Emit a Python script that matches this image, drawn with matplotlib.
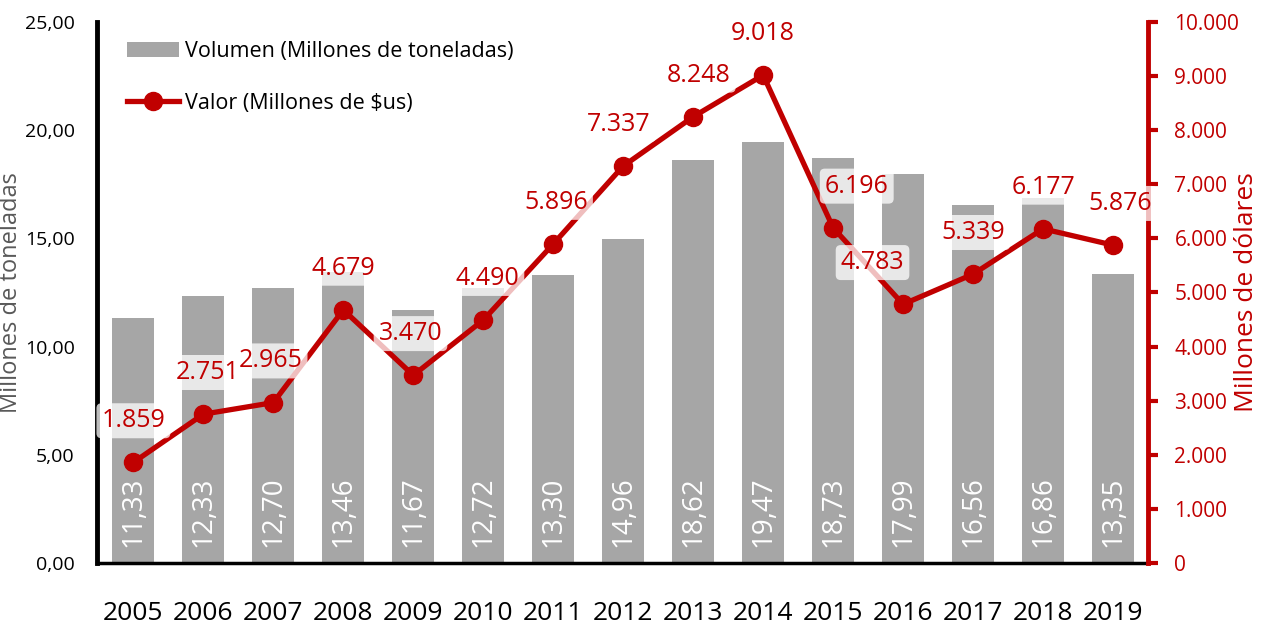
import numpy as np
import matplotlib.pyplot as plt
from matplotlib.lines import Line2D
from matplotlib.patches import Patch

plt.rcParams['font.family'] = ['Open Sans', 'DejaVu Sans']

###--- Data ---###
years = ['2005', '2006', '2007', '2008', '2009', '2010', '2011', '2012',
         '2013', '2014', '2015', '2016', '2017', '2018', '2019']
volumen = [11.33, 12.33, 12.70, 13.46, 11.67, 12.72, 13.30, 14.96,
           18.62, 19.47, 18.73, 17.99, 16.56, 16.86, 13.35]
valor = [1859, 2751, 2965, 4679, 3470, 4490, 5896, 7337,
         8248, 9018, 6196, 4783, 5339, 6177, 5876]
# label offsets (points) for the value labels
lab_dx = [0, 3, -2, 0, -2, 3, 2, -3, 4, 0, 17, -22, 0, 0, 5]

grey = '#A6A6A6'
red = '#C00000'

x = np.arange(len(years))

fig = plt.figure(figsize=(12.69, 6.31), dpi=100)
ax = fig.add_axes([97/1269, 68/631, (1148-97)/1269, (563-22)/631])
ax2 = ax.twinx()

###--- Bars (volume) ---###
ax.bar(x, volumen, width=0.6, color=grey, zorder=1)
for xi, v in zip(x, volumen):
    ax.text(xi, 0.75, f'{v:.2f}'.replace('.', ','), rotation=90, ha='center', va='bottom',
            color='white', fontsize=20, zorder=3)

ax.set_xlim(-0.52, 14.5)
ax.set_ylim(0, 25)
ax.set_yticks(np.arange(0, 26, 5))
ax.set_yticklabels([f'{t:.2f}'.replace('.', ',') for t in np.arange(0, 26, 5)], fontsize=14)
ax.set_xticks(x)
ax.set_xticklabels(years, fontsize=19)
ax.tick_params(axis='x', length=0, pad=27)
ax.tick_params(axis='y', length=0, pad=16)
ax.set_ylabel('Millones de toneladas', fontsize=17, color='#595959')
ax.yaxis.set_label_coords(-0.07, 0.5)
ax.spines['top'].set_visible(False)
ax.spines['right'].set_visible(False)
ax.spines['left'].set_linewidth(3.5)
ax.spines['bottom'].set_linewidth(2.5)

###--- Line (value) ---###
ax2.plot(x, valor, color=red, linewidth=3.8, marker='o', markersize=13, zorder=4)
for xi, v, dx in zip(x, valor, lab_dx):
    ax2.annotate(f'{v:,}'.replace(',', '.'), (xi, v), xytext=(dx, 30), textcoords='offset points',
                 ha='center', va='center', color=red, fontsize=18,
                 bbox=dict(boxstyle='round,pad=0.2', fc='white', ec='none', alpha=0.75), zorder=5)
ax2.set_ylim(0, 10000)
ax2.set_yticks(np.arange(0, 10001, 1000))
ax2.set_yticklabels(['0'] + [f'{t:,}'.replace(',', '.') for t in range(1000, 10001, 1000)],
                    fontsize=15, color=red)
ax2.tick_params(axis='y', colors=red, length=7, width=3, pad=12, labelcolor=red)
ax2.set_ylabel('Millones de dólares', fontsize=19, color=red, labelpad=-4)
ax2.spines['right'].set_color(red)
ax2.spines['right'].set_linewidth(3.5)
ax2.spines['top'].set_visible(False)
ax2.spines['left'].set_visible(False)
ax2.spines['bottom'].set_visible(False)

handles = [Patch(facecolor=grey, edgecolor='none'),
           Line2D([0], [0], color=red, linewidth=3.8, marker='o', markersize=13)]
ax2.legend(handles, ['Volumen (Millones de toneladas)', 'Valor (Millones de $us)'],
           loc='upper left', bbox_to_anchor=(0.01, 1.0), frameon=False, fontsize=15.5,
           handlelength=2.4, labelspacing=1.4, handletextpad=0.3)

fig.savefig('out.png', dpi=100)
